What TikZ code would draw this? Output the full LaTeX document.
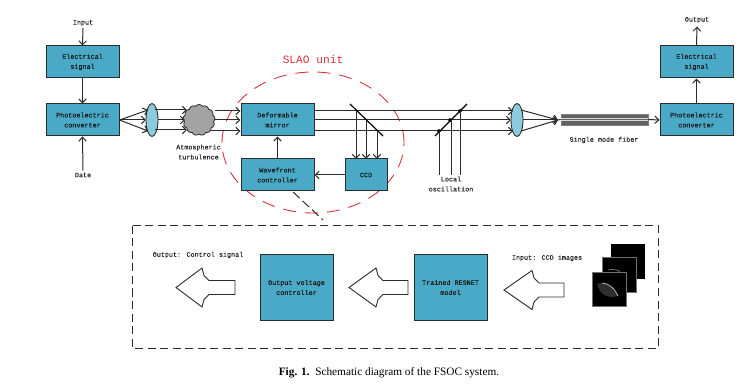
\documentclass[tikz,border=0pt]{standalone}
\usepackage{fontspec}
\setmainfont{Liberation Serif}
\setmonofont{Liberation Mono}
\newfontfamily\labelfont[FakeBold=0.1]{Liberation Mono}
\usetikzlibrary{arrows.meta,shapes.geometric,shapes.symbols,calc}
\definecolor{boxblue}{HTML}{49A9C6}
\definecolor{lensblue}{HTML}{8CCBDD}
\definecolor{inkdark}{HTML}{2B2B2B}
\definecolor{dashred}{HTML}{D9343F}
\tikzset{
  >={Straight Barb[length=4pt,width=7.5pt]},
  wire/.style={draw=inkdark,line width=1pt},
  flow/.style={wire,->},
  unitbox/.style={draw=inkdark,line width=1pt,fill=boxblue,inner sep=0pt,
    minimum width=73pt,minimum height=32pt,align=center,
    font=\labelfont\fontsize{6.75}{10}\selectfont,text=black!90},
  bigbox/.style={unitbox,minimum height=65pt},
  smalltext/.style={inner sep=0pt,align=center,
    font=\labelfont\fontsize{6.75}{10}\selectfont,text=black!85},
  lens/.style={draw=inkdark,line width=0.85pt,fill=lensblue,ellipse,inner sep=0pt,
    minimum width=12pt,minimum height=33pt},
  hollowarrow/.style={draw=inkdark,line width=0.9pt,fill=white,line join=miter},
  mirror/.style={draw=black,line width=1.2pt},
  tiltdot/.style={fill=black,rectangle,rotate=45,inner sep=0pt,minimum size=3pt},
  frame/.style={draw=inkdark,line width=1pt,dash pattern=on 8pt off 4.5pt},
}
\newcommand{\bigarrow}[5]{%
  % tip x, head x, notch x, tail x, centre y
  \path[hollowarrow] (#1,#5) -- (#2,#5-19.5) -- (#2+2,#5-12) -- (#3,#5-7)
    -- (#4,#5-7) -- (#4,#5+7) -- (#3,#5+7) -- (#2+2,#5+12) -- (#2,#5+19.5) -- cycle;%
}
\begin{document}
\begin{tikzpicture}[x=1pt,y=-1pt]
\useasboundingbox (0,0) rectangle (750,390);

% SLAO unit outline sits behind the blocks
\node[ellipse,draw=dashred,line width=0.9pt,dash pattern=on 13pt off 9pt,
  minimum width=182pt,minimum height=141pt,inner sep=0pt] (slao) at (313,142.5) {};
\node[inner sep=0pt,text=dashred,font=\ttfamily\fontsize{11.2}{14}\selectfont] (slaolabel) at (313,59) {SLAO unit};

% Transmitter
\node[unitbox] (elecL) at (82.5,62) {Electrical\\signal};
\node[unitbox] (photoL) at (82.5,120) {Photoelectric\\converter};
\node[smalltext] (inputL) at (83,23) {Input};
\node[smalltext] (dateL) at (83,175) {Date};
\draw[flow] (inputL.south) ++(0,2) -- (elecL.north);
\draw[flow] (elecL.south) -- (photoL.north);
\draw[flow] (dateL.north) ++(0,-2) -- (photoL.south);

% First lens and the turbulent channel
\node[lens] (lensA) at (152,120) {};
\node[cloud,draw=inkdark,line width=0.8pt,fill=black!36,cloud puffs=13,cloud puff arc=110,
  aspect=1.05,inner sep=0pt,minimum width=32pt,minimum height=31pt] (turb) at (199,120) {};
\node[smalltext] (turbtext) at (198.5,152) {Atmospheric\\turbulence};

\coordinate (lensAt) at (148,110);
\coordinate (lensAm) at (146,120);
\coordinate (lensAb) at (148,131);
\draw[flow] (photoL.east) -- (lensAt);
\draw[flow] (photoL.east) -- (lensAm);
\draw[flow] (photoL.east) -- (lensAb);
\coordinate (turbt) at (187,110);
\coordinate (turbm) at (185,120);
\coordinate (turbb) at (187,130);
\draw[flow] (lensAt) ++(7,0) -- (turbt);
\draw[flow] (lensAm) ++(12,0) -- (turbm);
\draw[flow] (lensAb) ++(7,-1) -- (turbb);

% Adaptive optics blocks
\node[unitbox] (dm) at (277.5,120) {Deformable\\mirror};
\node[unitbox] (wfc) at (277.5,175) {Wavefront\\controller};
\node[unitbox,minimum width=42pt] (ccd) at (366,175) {CCD};
\draw[flow] (215,111) -- (dm.west |- 0,111);
\draw[flow] (214,120) -- (dm.west);
\draw[flow] (211,131) -- (dm.west |- 0,131);
\draw[flow] (wfc.north) -- (dm.south);
\draw[flow] (ccd.west) -- (wfc.east);

% Receiving lens
\node[lens] (lensB) at (517,120) {};
\coordinate (beamT) at (513,111);
\coordinate (beamM) at (511,120);
\coordinate (beamB) at (513,131);
\draw[flow] (dm.east |- 0,111) -- (beamT);
\draw[flow] (dm.east) -- (beamM);
\draw[flow] (dm.east |- 0,131) -- (beamB);

% Beam splitter towards the CCD
\coordinate (splitA) at (350,104);
\coordinate (splitB) at (383,136);
\draw[mirror] (splitA) -- (splitB);
\draw[flow] (356,111) -- (356,159);
\draw[flow] (366,120) -- (366,159);
\draw[flow] (377,131) -- (377,159);

% Mixing with the local oscillator
\coordinate (mixA) at (435,136);
\coordinate (mixB) at (467,104);
\draw[mirror] (mixA) -- (mixB);
\node[smalltext] (localtext) at (451,184) {Local\\oscillation};
\node[tiltdot] (dotB) at (439,131) {};
\node[tiltdot] (dotM) at (450,120) {};
\node[tiltdot] (dotT) at (460,111) {};
\draw[wire] (dotB.center) -- (dotB.center |- 0,175);
\draw[wire] (dotM.center) ++(1,0) -- (451,175);
\draw[wire] (dotT.center) -- (dotT.center |- 0,175);

% Fibre coupling
\coordinate (focus) at (558,120);
\draw[flow] (lensB.center) ++(4,-10) -- (focus);
\draw[flow] (lensB.center) ++(6,0) -- (focus);
\draw[flow] (lensB.center) ++(4,11) -- (focus);
\node[inner sep=0pt,minimum width=87pt,minimum height=11pt,draw=black!50,line width=0.5pt,
  fill=black!62] (fiber) at (604.5,119.5) {};
\draw[white!85!black,line width=0.6pt] (fiber.west) ++(0,-1) -- ++(87,0);
\draw[white!85!black,line width=0.6pt] (fiber.west) ++(0,1) -- ++(87,0);
\draw[wire] (focus) -- (fiber.west);
\node[smalltext] (fibertext) at (604,140) {Single mode fiber};

% Receiver
\node[unitbox] (photoR) at (696.5,120) {Photoelectric\\converter};
\node[unitbox] (elecR) at (696.5,62) {Electrical\\signal};
\node[smalltext] (outputR) at (697,20) {Output};
\draw[flow] (fiber.east) -- (photoR.west);
\draw[flow] (photoR.north) -- (elecR.south);
\draw[flow] (elecR.north) -- (697,26.5);

% Inset showing the controller
\draw[frame] (132,226) rectangle (658,348);
\coordinate (zoomfoot) at (323,220);
\draw[wire,dash pattern=on 9pt off 4pt] (293,192) -- (zoomfoot);

\node[bigbox] (voltage) at (296.5,287.5) {Output voltage\\controller};
\node[bigbox] (resnet) at (450.5,287.5) {Trained RESNET\\model};
\node[smalltext] (outtext) at (198,255) {Output: Control signal};
\node[smalltext] (intext) at (547,258) {Input: CCD images};
\bigarrow{176}{202}{209}{235}{287.5}
\bigarrow{349}{376}{383}{408}{287.5}
\bigarrow{504}{532}{539}{564}{290}

% Stack of CCD frames
\fill[black] (611,244) rectangle (645,279);
\fill[black!75] (626,255) circle (0.5pt);
\fill[black] (602,257) rectangle (636,292);
\draw[black!55,line width=0.5pt] (602,257) rectangle (636,292);
\draw[black!45,line width=0.6pt] (608,270) .. controls (612,269) and (617,269.5) .. (620,271.5);
\fill[black] (592,272) rectangle (626,306);
\draw[black!55,line width=0.5pt] (592,272) rectangle (626,306);
\fill[black!82] (597,284) .. controls (604,281) and (613,285) .. (618,296)
  .. controls (613,298) and (600,298) .. (597,284) -- cycle;
\draw[white!85!black,line width=0.6pt] (602,283) .. controls (609,283) and (615,289) .. (618,296);

% Caption
\node[inner sep=0pt,font=\fontsize{11.3}{13}\selectfont] (caption) at (389,373)
  {\textbf{Fig. 1.}\ \ Schematic diagram of the FSOC system.};
\end{tikzpicture}
\end{document}
